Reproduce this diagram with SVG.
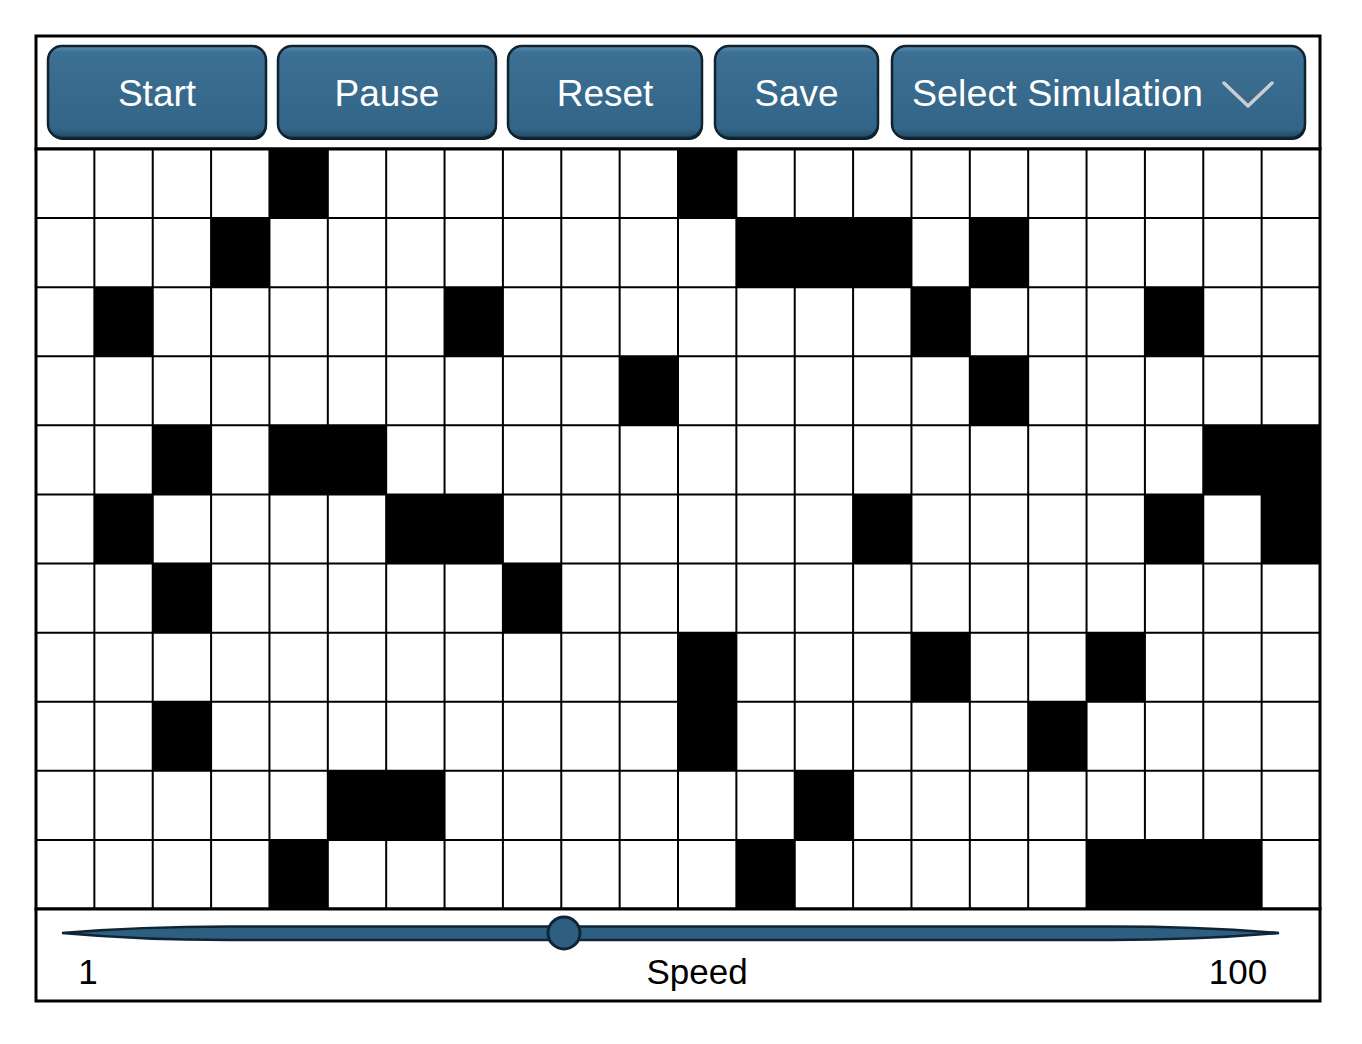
<svg xmlns="http://www.w3.org/2000/svg" width="1362" height="1044" viewBox="0 0 1362 1044">
<defs>
<linearGradient id="btnFill" x1="0" y1="0" x2="0" y2="1">
<stop offset="0" stop-color="#5a90b4"/>
<stop offset="0.07" stop-color="#3c7094"/>
<stop offset="0.5" stop-color="#376a8c"/>
<stop offset="0.9" stop-color="#336588"/>
<stop offset="1" stop-color="#1f4763"/>
</linearGradient>
<style>
.btn-shadow{fill:#0b1a24;}
.btn{fill:url(#btnFill);stroke:#10232f;stroke-width:2.5;}
.btn-text{font-family:"Liberation Sans",Arial,sans-serif;font-size:37px;fill:#ffffff;text-anchor:middle;}
.frame{fill:#ffffff;stroke:#000000;stroke-width:3;}
.cell{fill:#000000;}
.gridline{stroke:#000000;stroke-width:2;fill:none;}
.lbl{font-family:"Liberation Sans",Arial,sans-serif;font-size:35px;fill:#000000;text-anchor:middle;}
</style>
</defs>
<rect width="1362" height="1044" fill="#ffffff"/>

<g id="toolbar">
<rect class="frame" x="36" y="36" width="1284" height="113"/>
</g>

<g id="btn-start">
<rect class="btn-shadow" x="49" y="48" width="218" height="92" rx="14"/>
<rect class="btn" x="48" y="46" width="218" height="92" rx="14"/>
<text class="btn-text" x="157" y="106">Start</text>
</g>
<g id="btn-pause">
<rect class="btn-shadow" x="279" y="48" width="218" height="92" rx="14"/>
<rect class="btn" x="278" y="46" width="218" height="92" rx="14"/>
<text class="btn-text" x="387" y="106">Pause</text>
</g>
<g id="btn-reset">
<rect class="btn-shadow" x="509" y="48" width="194" height="92" rx="14"/>
<rect class="btn" x="508" y="46" width="194" height="92" rx="14"/>
<text class="btn-text" x="605" y="106">Reset</text>
</g>
<g id="btn-save">
<rect class="btn-shadow" x="716" y="48" width="163" height="92" rx="14"/>
<rect class="btn" x="715" y="46" width="163" height="92" rx="14"/>
<text class="btn-text" x="796.5" y="106">Save</text>
</g>
<g id="btn-select">
<rect class="btn-shadow" x="893" y="48" width="413" height="92" rx="14"/>
<rect class="btn" x="892" y="46" width="413" height="92" rx="14"/>
<text class="btn-text" x="912" y="106" style="text-anchor:start" textLength="291" lengthAdjust="spacingAndGlyphs">Select Simulation</text>
<path d="M1224,83 L1248,106 L1272,83" fill="none" stroke="#c9cdd0" stroke-width="3.5" stroke-linecap="round" stroke-linejoin="round"/>
</g>

<g id="grid">
<rect x="36" y="149" width="1284" height="760" fill="#ffffff"/>
<g class="cells">
<rect class="cell" x="269.45" y="149" width="58.36" height="69.09"/>
<rect class="cell" x="678" y="149" width="58.36" height="69.09"/>
<rect class="cell" x="211.09" y="218.09" width="58.36" height="69.09"/>
<rect class="cell" x="736.36" y="218.09" width="175.09" height="69.09"/>
<rect class="cell" x="969.82" y="218.09" width="58.36" height="69.09"/>
<rect class="cell" x="94.36" y="287.18" width="58.36" height="69.09"/>
<rect class="cell" x="444.55" y="287.18" width="58.36" height="69.09"/>
<rect class="cell" x="911.45" y="287.18" width="58.36" height="69.09"/>
<rect class="cell" x="1144.91" y="287.18" width="58.36" height="69.09"/>
<rect class="cell" x="619.64" y="356.27" width="58.36" height="69.09"/>
<rect class="cell" x="969.82" y="356.27" width="58.36" height="69.09"/>
<rect class="cell" x="152.73" y="425.36" width="58.36" height="69.09"/>
<rect class="cell" x="269.45" y="425.36" width="116.73" height="69.09"/>
<rect class="cell" x="1203.27" y="425.36" width="116.73" height="69.09"/>
<rect class="cell" x="94.36" y="494.45" width="58.36" height="69.09"/>
<rect class="cell" x="386.18" y="494.45" width="116.73" height="69.09"/>
<rect class="cell" x="853.09" y="494.45" width="58.36" height="69.09"/>
<rect class="cell" x="1144.91" y="494.45" width="58.36" height="69.09"/>
<rect class="cell" x="1261.64" y="494.45" width="58.36" height="69.09"/>
<rect class="cell" x="152.73" y="563.55" width="58.36" height="69.09"/>
<rect class="cell" x="502.91" y="563.55" width="58.36" height="69.09"/>
<rect class="cell" x="678" y="632.64" width="58.36" height="69.09"/>
<rect class="cell" x="911.45" y="632.64" width="58.36" height="69.09"/>
<rect class="cell" x="1086.55" y="632.64" width="58.36" height="69.09"/>
<rect class="cell" x="152.73" y="701.73" width="58.36" height="69.09"/>
<rect class="cell" x="678" y="701.73" width="58.36" height="69.09"/>
<rect class="cell" x="1028.18" y="701.73" width="58.36" height="69.09"/>
<rect class="cell" x="327.82" y="770.82" width="116.73" height="69.09"/>
<rect class="cell" x="794.73" y="770.82" width="58.36" height="69.09"/>
<rect class="cell" x="269.45" y="839.91" width="58.36" height="69.09"/>
<rect class="cell" x="736.36" y="839.91" width="58.36" height="69.09"/>
<rect class="cell" x="1086.55" y="839.91" width="175.09" height="69.09"/>
</g>
<path class="gridline" d="M94.36,149V909M152.73,149V909M211.09,149V909M269.45,149V909M327.82,149V909M386.18,149V909M444.55,149V909M502.91,149V909M561.27,149V909M619.64,149V909M678,149V909M736.36,149V909M794.73,149V909M853.09,149V909M911.45,149V909M969.82,149V909M1028.18,149V909M1086.55,149V909M1144.91,149V909M1203.27,149V909M1261.64,149V909M36,218.09H1320M36,287.18H1320M36,356.27H1320M36,425.36H1320M36,494.45H1320M36,563.55H1320M36,632.64H1320M36,701.73H1320M36,770.82H1320M36,839.91H1320"/>
<rect x="36" y="149" width="1284" height="760" fill="none" stroke="#000000" stroke-width="3"/>
</g>

<g id="speed-panel">
<rect class="frame" x="36" y="909" width="1284" height="92"/>
<path d="M62,933 Q140,926.5 230,926.5 L1110,926.5 Q1200,926.5 1279,933 Q1200,940 1110,940 L230,940 Q140,940 62,933 Z" fill="#2f5f80" stroke="#0f2536" stroke-width="2.5"/>
<circle cx="564" cy="933" r="16" fill="#2f5f80" stroke="#0f2536" stroke-width="3"/>
<text class="lbl" x="88" y="984">1</text>
<text class="lbl" x="697" y="984">Speed</text>
<text class="lbl" x="1238" y="984">100</text>
</g>
</svg>
